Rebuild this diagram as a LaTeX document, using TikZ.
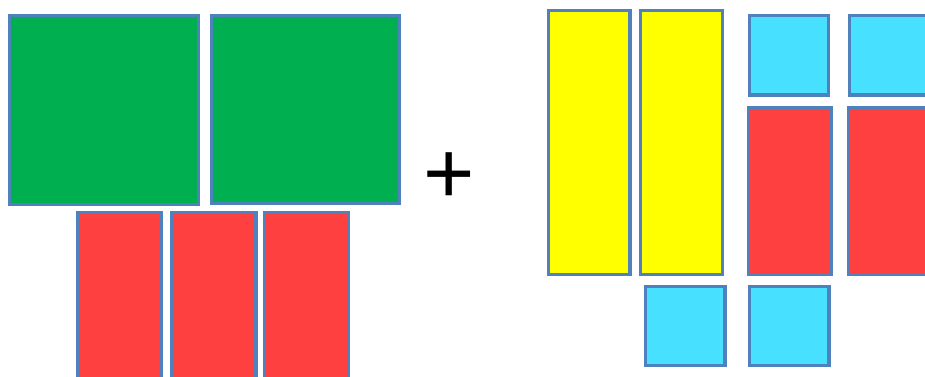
\documentclass[tikz,border=0pt]{standalone}
\usepackage{fontspec}
\setmainfont{Liberation Sans}
\usepackage{xcolor}
\definecolor{tileedge}{RGB}{79,129,189}
\definecolor{tilegreen}{RGB}{0,176,80}
\definecolor{tilered}{RGB}{255,64,64}
\definecolor{tileyellow}{RGB}{255,255,0}
\definecolor{tilecyan}{RGB}{71,224,255}
\tikzset{
  tile/.style={draw=tileedge, line width=3.2pt},
}

\begin{document}
\begin{tikzpicture}[x=1pt, y=-1pt]

  \useasboundingbox (0,0) rectangle (925,376);
  \clip (0,0) rectangle (925,376);

  %--- Left group: two large squares ---
  \draw[tile, fill=tilegreen] (9.6,15.6) rectangle (198.4,204.4);
  \draw[tile, fill=tilegreen] (211.6,15.6) rectangle (399.4,203.4);

  %--- Left group: three long strips below ---
  \draw[tile, fill=tilered] (77.6,212.6) rectangle (161,385);
  \draw[tile, fill=tilered] (171.6,212.6) rectangle (256,385);
  \draw[tile, fill=tilered] (264.6,212.6) rectangle (348.4,385);

  %--- Plus sign ---
  \node[anchor=base, inner sep=0pt] (plus) at (449.5,203.6)
    {\fontsize{88}{88}\selectfont +};

  %--- Right group: two tall strips ---
  \draw[tile, fill=tileyellow] (548.3,10.6) rectangle (630,274.4);
  \draw[tile, fill=tileyellow] (640.6,10.6) rectangle (722.4,274.4);

  %--- Right group: small squares on top ---
  \draw[tile, fill=tilecyan] (749.6,15.6) rectangle (828.6,95);
  \draw[tile, fill=tilecyan] (849.6,15.6) rectangle (935,95);

  %--- Right group: strips in the middle ---
  \draw[tile, fill=tilered] (748.6,107.6) rectangle (831.4,274.4);
  \draw[tile, fill=tilered] (848.6,107.6) rectangle (935,274.4);

  %--- Right group: small squares at the bottom ---
  \draw[tile, fill=tilecyan] (645.6,286.6) rectangle (725,365.4);
  \draw[tile, fill=tilecyan] (749.6,286.6) rectangle (829,365.4);

\end{tikzpicture}
\end{document}
